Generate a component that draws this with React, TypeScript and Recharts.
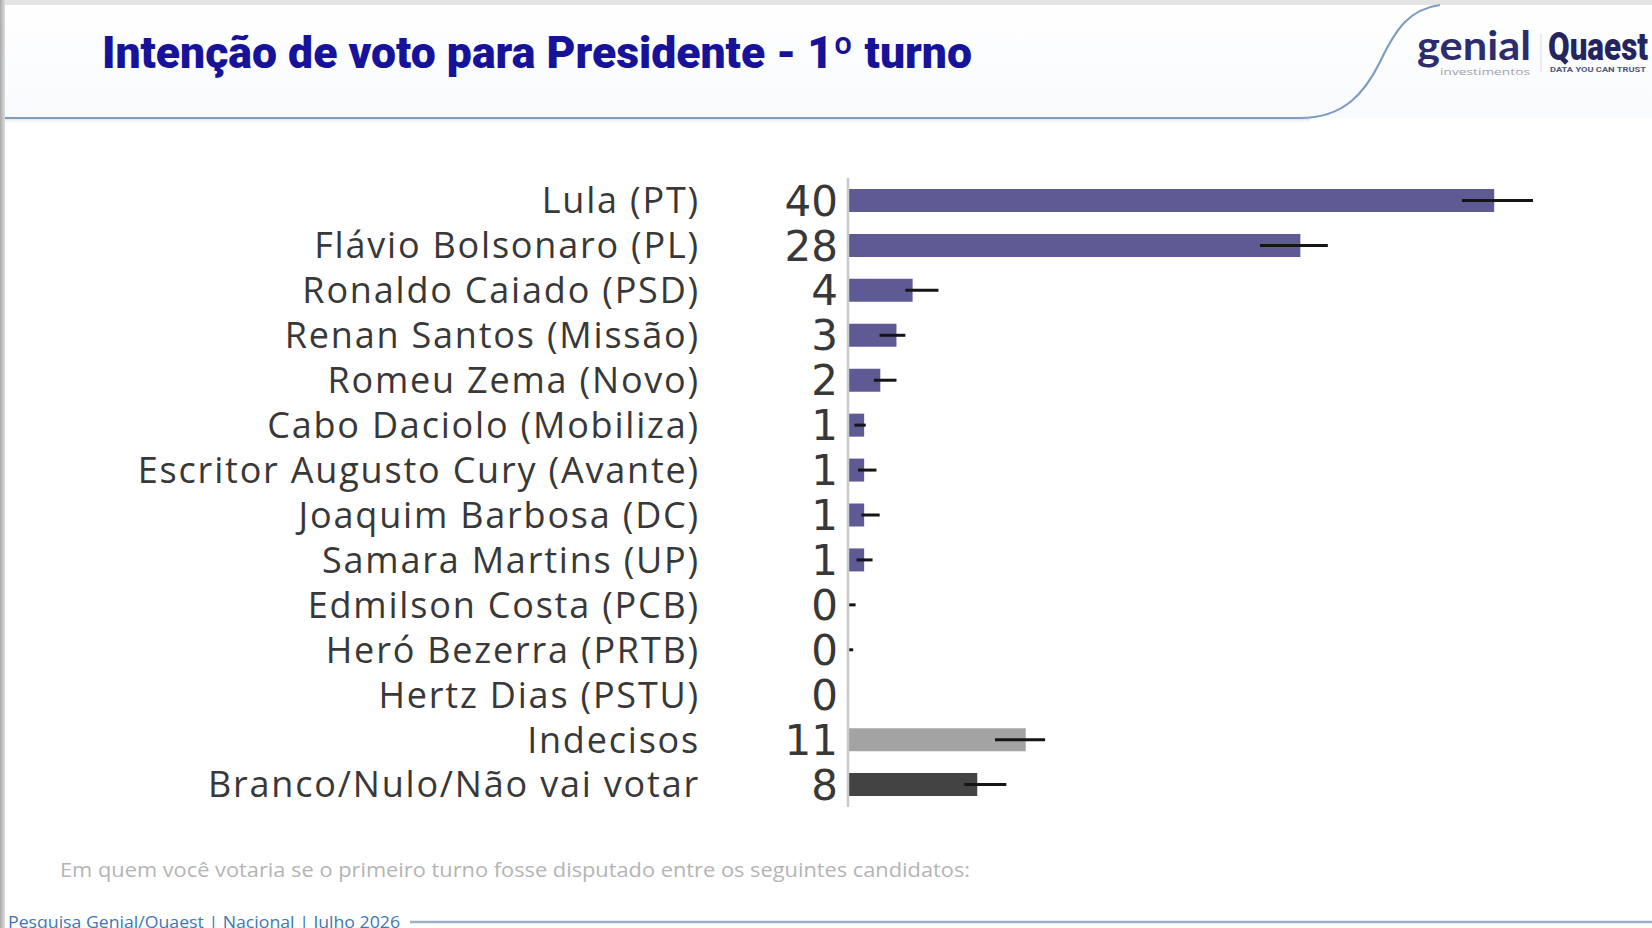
import { BarChart, Bar, XAxis, YAxis, ErrorBar, Cell } from "recharts";

const candidates = [
  "Lula (PT)",
  "Flávio Bolsonaro (PL)",
  "Ronaldo Caiado (PSD)",
  "Renan Santos (Missão)",
  "Romeu Zema (Novo)",
  "Cabo Daciolo (Mobiliza)",
  "Escritor Augusto Cury (Avante)",
  "Joaquim Barbosa (DC)",
  "Samara Martins (UP)",
  "Edmilson Costa (PCB)",
  "Heró Bezerra (PRTB)",
  "Hertz Dias (PSTU)",
  "Indecisos",
  "Branco/Nulo/Não vai votar",
];

// shares in %, labels show them rounded; Costa and Heró are just above zero
const votes = [40, 28, 4, 3, 2, 1, 1, 1, 1, 0.02, 0.02, 0, 11, 8];

// margin of error, below / above each value
const errorLow = [2.0, 2.5, 0.45, 1.05, 0.4, 0.6, 0.38, 0.17, 0.47, 0, 0, 0, 1.9, 0.8];
const errorHigh = [2.4, 1.7, 1.6, 0.55, 1.0, 0.1, 0.76, 0.96, 0.52, 0.45, 0.3, 0, 1.2, 1.8];

const barColors = [
  "#5d5a94", "#5d5a94", "#5d5a94", "#5d5a94", "#5d5a94", "#5d5a94", "#5d5a94",
  "#5d5a94", "#5d5a94", "#5d5a94", "#5d5a94", "#5d5a94", "#a3a3a3", "#434343",
];

const data = candidates.map((name, i) => ({
  name,
  value: votes[i],
  err: [errorLow[i], errorHigh[i]],
}));

const FONT = "'Open Sans', sans-serif";

function CandidateTick({ y, payload }: any) {
  const i = candidates.indexOf(payload.value);
  return (
    <g>
      <text
        x={700}
        y={y}
        dy="0.36em"
        textAnchor="end"
        fontFamily={FONT}
        fontSize={36}
        letterSpacing={1.8}
        fill="#383838"
      >
        {payload.value}
      </text>
      <text
        x={838}
        y={y}
        dy="0.36em"
        textAnchor="end"
        fontFamily="'DejaVu Sans', sans-serif"
        fontSize={42}
        fill="#383838"
      >
        {Math.round(votes[i])}
      </text>
    </g>
  );
}

function Decorations() {
  return (
    <svg
      width={1652}
      height={928}
      style={{ position: "absolute", left: 0, top: 0 }}
    >
      <defs>
        <linearGradient id="headerBg" x1="0" y1="0" x2="0" y2="1">
          <stop offset="0%" stopColor="#ffffff" />
          <stop offset="100%" stopColor="#f8fafd" />
        </linearGradient>
        <linearGradient id="shadow" x1="0" y1="0" x2="0" y2="1">
          <stop offset="0%" stopColor="#dfe5ec" />
          <stop offset="100%" stopColor="#ffffff" stopOpacity={0} />
        </linearGradient>
        <linearGradient id="leftEdge" x1="0" y1="0" x2="1" y2="0">
          <stop offset="0%" stopColor="#a9a9a9" />
          <stop offset="100%" stopColor="#dedede" />
        </linearGradient>
      </defs>
      <rect x={0} y={0} width={1652} height={928} fill="#ffffff" />
      <rect x={0} y={0} width={1652} height={118} fill="url(#headerBg)" />
      <rect x={0} y={119} width={1310} height={5} fill="url(#shadow)" />
      <rect x={0} y={0} width={1652} height={5} fill="#e4e4e4" />
      <rect x={0} y={0} width={5} height={928} fill="url(#leftEdge)" />
      <path
        d="M 5 118 H 1300 C 1345 118 1365 92 1380 62 C 1396 28 1410 9 1440 5"
        fill="none"
        stroke="#7f9dbf"
        strokeWidth={2.2}
      />
      <text
        x={102}
        y={68}
        fontFamily="Roboto, sans-serif"
        fontWeight={900}
        fontSize={44}
        fill="#16129a"
        textLength={870}
        lengthAdjust="spacingAndGlyphs"
      >
        Intenção de voto para Presidente - 1º turno
      </text>
      <text
        x={1417}
        y={60}
        fontFamily="Lato, sans-serif"
        fontWeight={700}
        fontSize={40}
        fill="#2d2d6e"
        textLength={114}
        lengthAdjust="spacingAndGlyphs"
      >
        genial
      </text>
      <text
        x={1440}
        y={75}
        fontFamily={FONT}
        fontSize={9}
        fill="#a0a0ac"
        textLength={90}
        lengthAdjust="spacingAndGlyphs"
      >
        investimentos
      </text>
      <line x1={1541} y1={34} x2={1541} y2={72} stroke="#d8d8e0" strokeWidth={1} />
      <text
        x={1548}
        y={60}
        fontFamily="Roboto, sans-serif"
        fontWeight={900}
        fontSize={38}
        fill="#24245e"
        textLength={100}
        lengthAdjust="spacingAndGlyphs"
      >
        Quaest
      </text>
      <text
        x={1550}
        y={72}
        fontFamily="Roboto, sans-serif"
        fontWeight={700}
        fontSize={7}
        fill="#55557a"
        textLength={96}
        lengthAdjust="spacingAndGlyphs"
      >
        DATA YOU CAN TRUST
      </text>
      <text
        x={60}
        y={877}
        fontFamily={FONT}
        fontSize={20}
        fill="#b4b4b4"
        textLength={910}
        lengthAdjust="spacingAndGlyphs"
      >
        Em quem você votaria se o primeiro turno fosse disputado entre os seguintes candidatos:
      </text>
      <text
        x={8}
        y={928}
        fontFamily={FONT}
        fontSize={17}
        fill="#3f76b3"
        textLength={392}
        lengthAdjust="spacingAndGlyphs"
      >
        Pesquisa Genial/Quaest | Nacional | Julho 2026
      </text>
      <line x1={410} y1={922} x2={1652} y2={922} stroke="#9aaec6" strokeWidth={2.5} />
    </svg>
  );
}

export default function App() {
  return (
    <div
      style={{
        position: "absolute",
        left: 0,
        top: 0,
        width: 1652,
        height: 928,
        overflow: "hidden",
        background: "#ffffff",
      }}
    >
      <Decorations />
      <div style={{ position: "absolute", left: 0, top: 0 }}>
        <BarChart
          width={1652}
          height={830}
          data={data}
          layout="vertical"
          margin={{ top: 178, right: 77, bottom: 23, left: 0 }}
          barSize={23}
        >
          <XAxis type="number" domain={[0, 45]} hide />
          <YAxis
            type="category"
            dataKey="name"
            width={848}
            interval={0}
            tickLine={false}
            axisLine={{ stroke: "#c9c9c9", strokeWidth: 2.5 }}
            tick={<CandidateTick />}
          />
          <Bar dataKey="value" isAnimationActive={false}>
            {data.map((d, i) => (
              <Cell key={d.name} fill={barColors[i]} />
            ))}
            <ErrorBar
              dataKey="err"
              direction="x"
              width={0}
              stroke="#151515"
              strokeWidth={3}
            />
          </Bar>
        </BarChart>
      </div>
    </div>
  );
}
